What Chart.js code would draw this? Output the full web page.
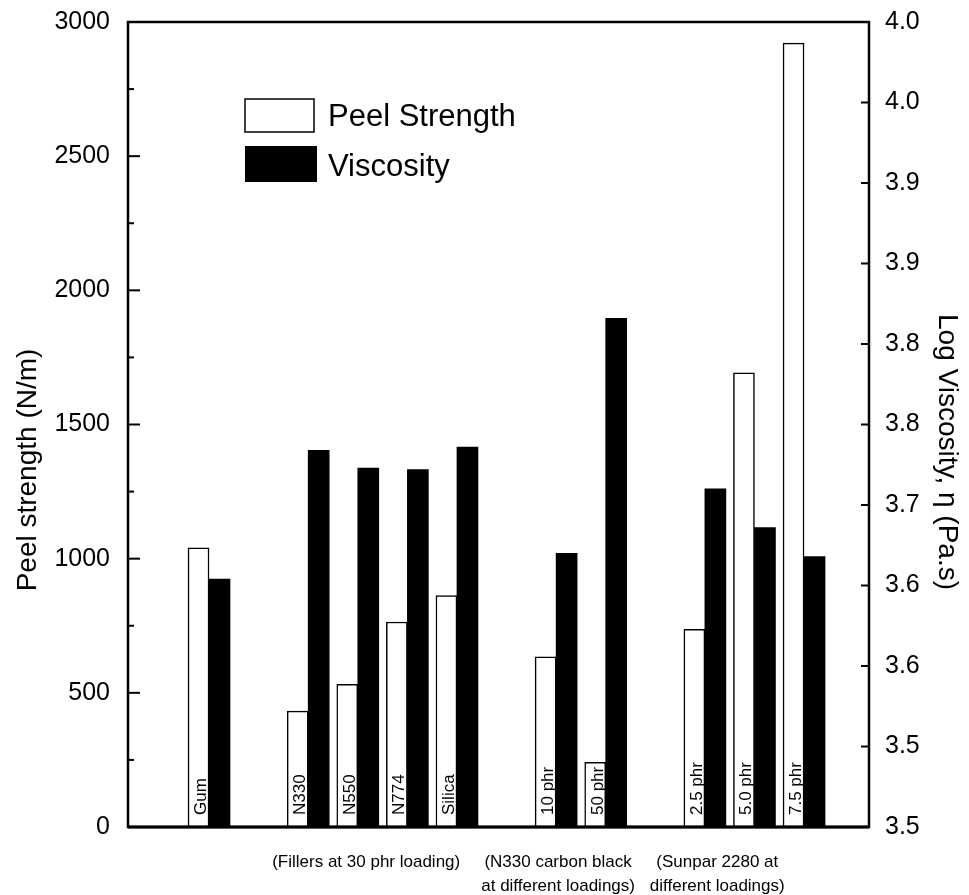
<!DOCTYPE html>
<html>
<head>
<meta charset="utf-8">
<title>Peel strength and viscosity</title>
<script src="https://cdn.jsdelivr.net/npm/chart.js@4.4.1/dist/chart.umd.min.js"></script>
<style>
  html, body { margin: 0; padding: 0; background: #fff; }
  #wrap { width: 969px; height: 895px; position: relative; }
</style>
</head>
<body>
<div id="wrap"><canvas id="chart"></canvas></div>
<script>
// compounds in plotting order
const categories = ['Gum', 'N330', 'N550', 'N774', 'Silica', '10 phr', '50 phr', '2.5 phr', '5.0 phr', '7.5 phr'];
// slot of each compound on the x axis (empty slots split the groups)
const slots = [0, 2, 3, 4, 5, 7, 8, 10, 11, 12];
const peelStrength = [1040, 432, 532, 764, 862, 634, 241, 737, 1693, 2921];
const logViscosity = [3.654, 3.734, 3.723, 3.722, 3.736, 3.670, 3.816, 3.710, 3.686, 3.668];

const viscTicks = [3.50, 3.55, 3.60, 3.65, 3.70, 3.75, 3.80, 3.85, 3.90, 3.95, 4.00];
const viscTickLabels = ['3.5', '3.5', '3.6', '3.6', '3.7', '3.8', '3.8', '3.9', '3.9', '4.0', '4.0'];

const groupNotes = [
  { x: 3.17, lines: ['(Fillers at 30 phr loading)'] },
  { x: 7.04, lines: ['(N330 carbon black', 'at different loadings)'] },
  { x: 10.25, lines: ['(Sunpar 2280 at', 'different loadings)'] }
];

const FONT = '"Liberation Sans", Arial, sans-serif';

// box, inward ticks, labels inside bars, legend, titles
const decorPlugin = {
  id: 'decor',
  afterDatasetsDraw(chart) {
    const ctx = chart.ctx;
    const a = chart.chartArea;
    const y = chart.scales.y, y2 = chart.scales.y2, x = chart.scales.x;
    ctx.save();
    ctx.strokeStyle = '#000';
    ctx.fillStyle = '#000';

    // left ticks: majors + minors halfway
    ctx.lineWidth = 2;
    y.ticks.forEach((t, i) => {
      const py = y.getPixelForValue(t.value);
      ctx.beginPath(); ctx.moveTo(a.left, py); ctx.lineTo(a.left + 12, py); ctx.stroke();
      if (i < y.ticks.length - 1) {
        const pm = y.getPixelForValue((t.value + y.ticks[i + 1].value) / 2);
        ctx.beginPath(); ctx.moveTo(a.left, pm); ctx.lineTo(a.left + 6, pm); ctx.stroke();
      }
    });
    // right ticks
    y2.ticks.forEach(t => {
      const py = y2.getPixelForValue(t.value);
      ctx.beginPath(); ctx.moveTo(a.right, py); ctx.lineTo(a.right - 8, py); ctx.stroke();
    });

    // frame
    ctx.lineWidth = 2.5;
    ctx.strokeRect(a.left, a.top, a.right - a.left, a.bottom - a.top);
    ctx.lineWidth = 3;
    ctx.beginPath(); ctx.moveTo(a.left, a.bottom); ctx.lineTo(a.right, a.bottom); ctx.stroke();

    // names written up the white bars
    const meta = chart.getDatasetMeta(0);
    ctx.font = '17px ' + FONT;
    ctx.textAlign = 'left';
    ctx.textBaseline = 'alphabetic';
    meta.data.forEach((bar, i) => {
      const bx = bar.x + bar.width / 2 - 3;
      ctx.save();
      ctx.translate(bx, a.bottom - 12);
      ctx.rotate(-Math.PI / 2);
      ctx.fillText(categories[i], 0, 0);
      ctx.restore();
    });

    // group notes under the axis
    ctx.font = '17px ' + FONT;
    ctx.textAlign = 'center';
    ctx.textBaseline = 'middle';
    groupNotes.forEach(g => {
      const px = x.getPixelForValue(g.x);
      g.lines.forEach((ln, k) => ctx.fillText(ln, px, a.bottom + 35 + k * 24));
    });

    // legend
    const ds = chart.data.datasets;
    ctx.lineWidth = 1.5;
    ctx.fillStyle = '#fff';
    ctx.fillRect(245, 99, 69, 33);
    ctx.strokeRect(245, 99, 69, 33);
    ctx.fillStyle = '#000';
    ctx.fillRect(245, 146, 72, 36);
    ctx.font = '31px ' + FONT;
    ctx.textAlign = 'left';
    ctx.textBaseline = 'alphabetic';
    ctx.fillText(ds[0].label, 328, 126);
    ctx.fillText(ds[1].label, 328, 176);

    // axis titles
    ctx.font = '28px ' + FONT;
    ctx.textAlign = 'center';
    ctx.textBaseline = 'middle';
    ctx.save();
    ctx.translate(28, 470);
    ctx.rotate(-Math.PI / 2);
    ctx.fillText('Peel strength (N/m)', 0, 0);
    ctx.restore();
    ctx.save();
    ctx.translate(947, 452);
    ctx.rotate(Math.PI / 2);
    ctx.fillText('Log Viscosity, \u03b7 (Pa.s)', 0, 0);
    ctx.restore();

    ctx.restore();
  }
};

new Chart(document.getElementById('chart'), {
  type: 'bar',
  data: {
    datasets: [
      {
        label: 'Peel Strength',
        data: slots.map((s, i) => ({ x: s, y: peelStrength[i] })),
        yAxisID: 'y',
        backgroundColor: '#fff',
        borderColor: '#000',
        borderWidth: 1.5,
        barThickness: 21
      },
      {
        label: 'Viscosity',
        data: slots.map((s, i) => ({ x: s, y: logViscosity[i] })),
        yAxisID: 'y2',
        backgroundColor: '#000',
        borderColor: '#000',
        borderWidth: 0,
        barThickness: 21
      }
    ]
  },
  options: {
    responsive: true,
    maintainAspectRatio: false,
    animation: false,
    layout: { padding: { top: 22, bottom: 68, left: 0, right: 0 } },
    plugins: {
      legend: { display: false },
      tooltip: { enabled: false }
    },
    scales: {
      x: {
        type: 'linear',
        min: -1.634,
        max: 13.31,
        offset: false,
        display: false
      },
      y: {
        position: 'left',
        min: 0,
        max: 3000,
        grid: { display: false, drawTicks: false },
        border: { display: false },
        ticks: {
          stepSize: 500,
          padding: 18,
          color: '#000',
          font: { family: FONT, size: 25 },
          callback: v => String(v)
        },
        afterFit(scale) {
          scale.width = 128;
          scale.paddingTop = 0;
          scale.paddingBottom = 0;
        }
      },
      y2: {
        position: 'right',
        min: 3.5,
        max: 4.0,
        grid: { display: false, drawTicks: false },
        border: { display: false },
        afterBuildTicks(scale) {
          scale.ticks = viscTicks.map(v => ({ value: v }));
        },
        ticks: {
          padding: 16,
          color: '#000',
          font: { family: FONT, size: 25 },
          callback: (v, i) => viscTickLabels[i]
        },
        afterFit(scale) {
          scale.width = 100;
          scale.paddingTop = 0;
          scale.paddingBottom = 0;
        }
      }
    }
  },
  plugins: [decorPlugin]
});
</script>
</body>
</html>
